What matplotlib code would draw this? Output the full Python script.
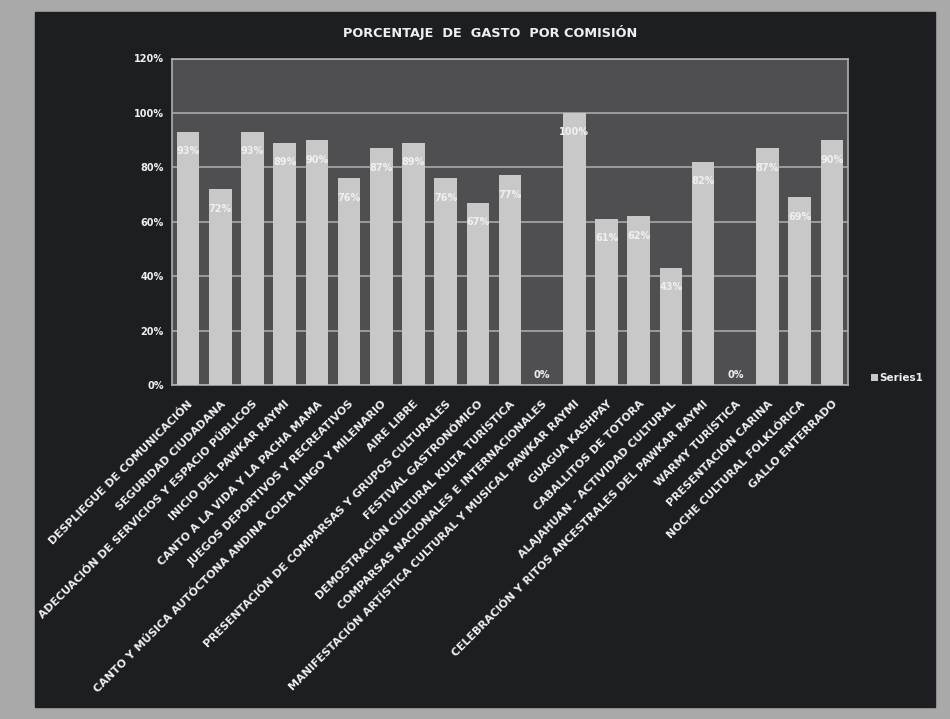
import matplotlib.pyplot as plt
from matplotlib.patches import Rectangle

categories = [
    "DESPLIEGUE DE COMUNICACIÓN",
    "SEGURIDAD CIUDADANA",
    "ADECUACIÓN DE SERVICIOS Y ESPACIO PÚBLICOS",
    "INICIO DEL PAWKAR RAYMI",
    "CANTO A LA VIDA Y LA PACHA MAMA",
    "JUEGOS DEPORTIVOS Y RECREATIVOS",
    "CANTO Y MÚSICA AUTÓCTONA ANDINA COLTA LINGO Y MILENARIO",
    "AIRE LIBRE",
    "PRESENTACIÓN DE COMPARSAS Y GRUPOS CULTURALES",
    "FESTIVAL GASTRONÓMICO",
    "DEMOSTRACIÓN CULTURAL KULTA TURÍSTICA",
    "COMPARSAS NACIONALES E INTERNACIONALES",
    "MANIFESTACIÓN ARTÍSTICA CULTURAL Y MUSICAL PAWKAR RAYMI",
    "GUAGUA KASHPAY",
    "CABALLITOS DE TOTORA",
    "ALAJAHUAN - ACTIVIDAD CULTURAL",
    "CELEBRACIÓN Y RITOS ANCESTRALES DEL PAWKAR RAYMI",
    "WARMY TURÍSTICA",
    "PRESENTACIÓN CARINA",
    "NOCHE CULTURAL FOLKLÓRICA",
    "GALLO ENTERRADO",
]
values = [93, 72, 93, 89, 90, 76, 87, 89, 76, 67, 77, 0, 100, 61, 62, 43, 82, 0, 87, 69, 90]
yticks = [0, 20, 40, 60, 80, 100, 120]

frame_bg = "#1d1e22"
plot_bg = "#4f4f51"
bar_col = "#c8c8c8"
txt = "#f0f0f0"

fig = plt.figure(figsize=(9.5, 7.19), dpi=100, facecolor="#a9a9a9")
# dark screen frame inside the lighter photo border
fig.patches.append(Rectangle((35 / 950, 12 / 719), 900 / 950, 695 / 719,
                             transform=fig.transFigure, color=frame_bg, zorder=-10))

ax = fig.add_axes([172 / 950, 1 - 385 / 719, 676 / 950, 326.5 / 719])
ax.set_facecolor(plot_bg)

x = range(len(values))
bars = ax.bar(x, values, width=0.7, color=bar_col, zorder=3, label="Series1")

for xi, v in zip(x, values):
    if v == 0:
        ax.annotate(f"{v}%", (xi, v), xytext=(0, 7), textcoords="offset points",
                    ha="center", va="center", color=txt, fontsize=7, fontweight="bold")
    else:
        ax.annotate(f"{v}%", (xi, v), xytext=(0, -14), textcoords="offset points",
                    ha="center", va="center", color=txt, fontsize=7, fontweight="bold",
                    zorder=4)

ax.set_ylim(0, 120)
ax.set_xlim(-0.5, len(values) - 0.5)
ax.set_yticks(yticks)
ax.set_yticklabels([f"{t}%" for t in yticks], color=txt, fontsize=7, fontweight="bold")
ax.yaxis.grid(True, color="#a8a8a8", lw=1.2, zorder=1)
ax.set_xticks(list(x))
ax.set_xticklabels(categories, rotation=45, ha="right", rotation_mode="anchor",
                   color=txt, fontsize=7.9, fontweight="bold")
ax.tick_params(axis="x", length=0, pad=10)
ax.tick_params(axis="y", length=0, pad=6)
for s in ax.spines.values():
    s.set_color("#b0b0b0")
    s.set_linewidth(1.2)

fig.text(490 / 950, 1 - 33 / 719, "PORCENTAJE  DE  GASTO  POR COMISIÓN", ha="center",
         va="center", color=txt, fontsize=9.3, fontweight="bold")

leg = fig.legend(handles=[bars], labels=["Series1"], loc="center left",
                 bbox_to_anchor=(862 / 950, 1 - 378 / 719), frameon=False,
                 handlelength=0.6, handleheight=0.6, handletextpad=0.2, fontsize=7.5)
for t in leg.get_texts():
    t.set_color(txt)
    t.set_fontweight("bold")

plt.savefig("out.png", dpi=100, facecolor=fig.get_facecolor())
